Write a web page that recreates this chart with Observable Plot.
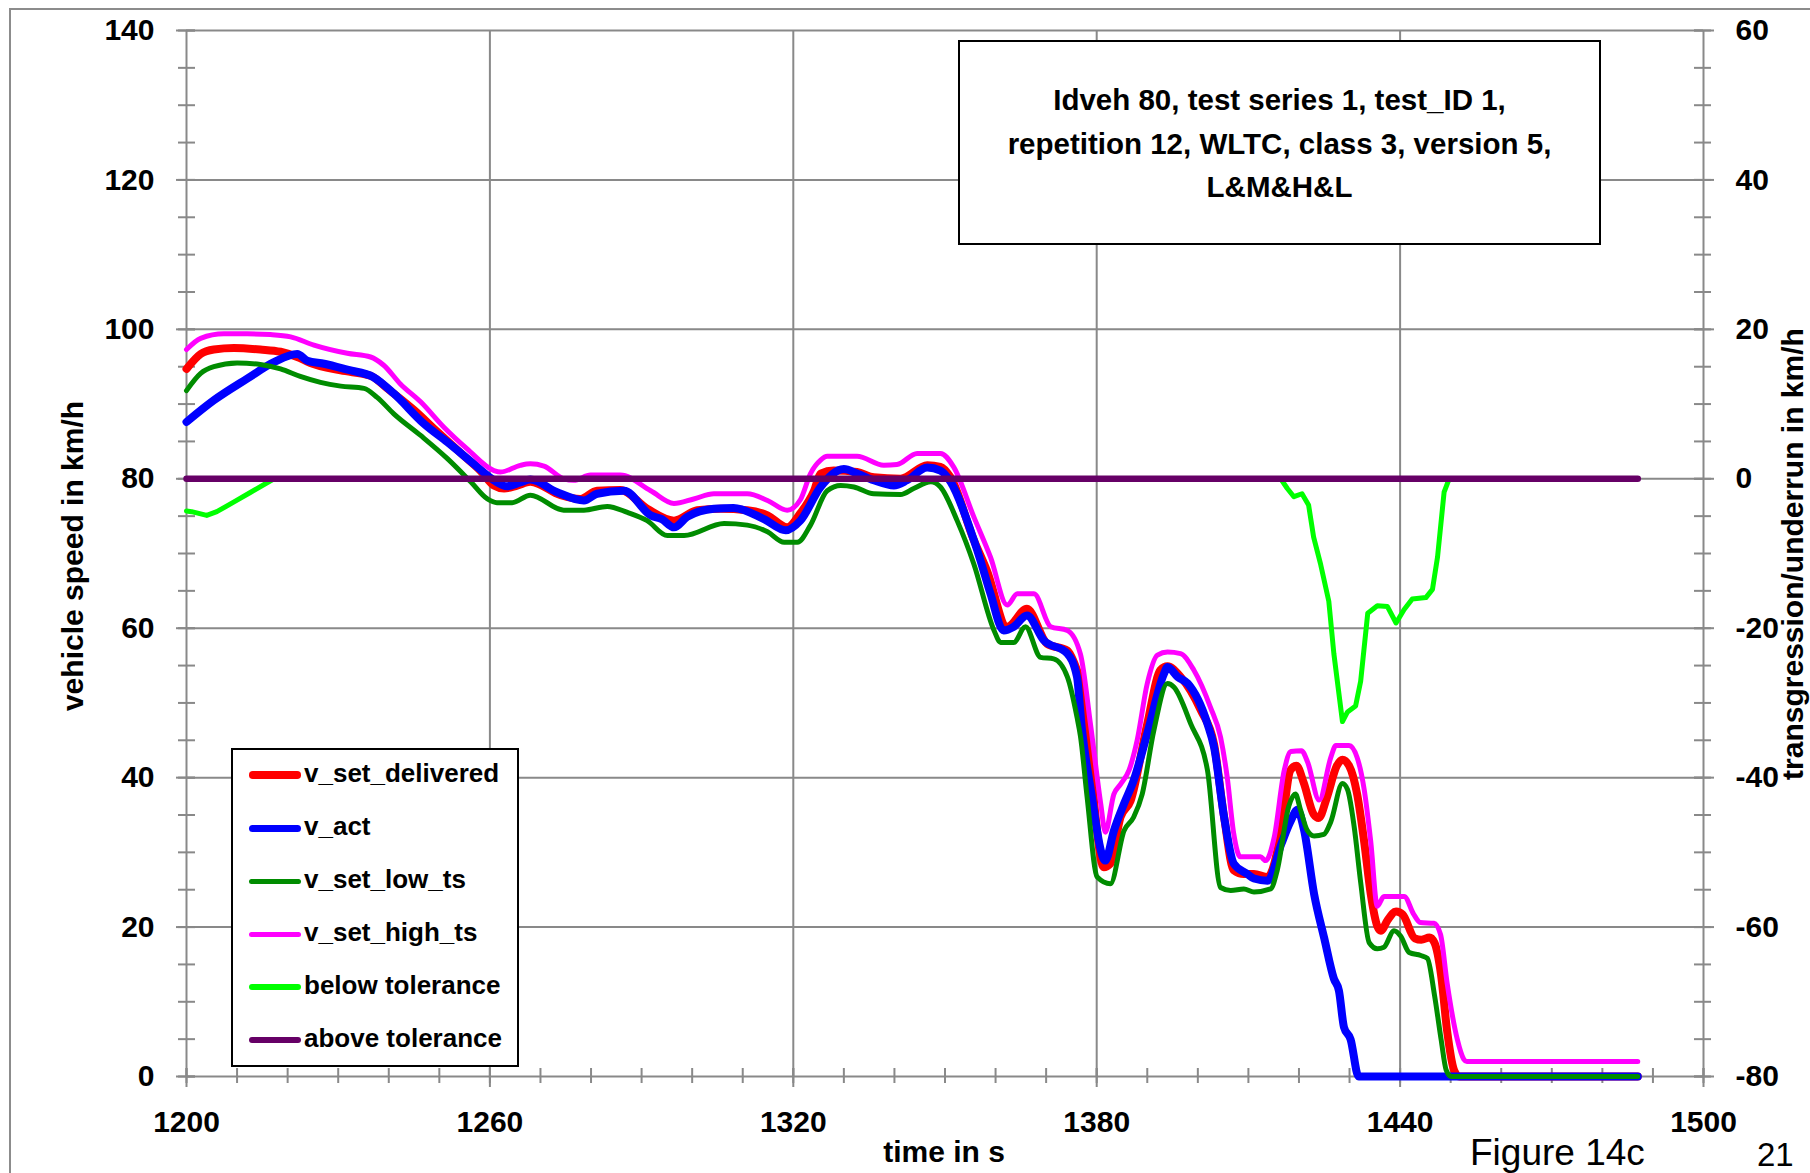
<!DOCTYPE html>
<html><head><meta charset="utf-8">
<script src="https://cdn.jsdelivr.net/npm/d3@7"></script>
<script src="https://cdn.jsdelivr.net/npm/@observablehq/plot@0.6"></script>
<style>
html,body{margin:0;padding:0;background:#fff;overflow:hidden;}
#wrap{position:relative;width:1810px;height:1173px;overflow:hidden;font-family:"Liberation Sans",Arial,sans-serif;color:#000;}
.abs{position:absolute;white-space:nowrap;}
#wrap svg{position:absolute;left:0;top:0;}
</style></head><body><div id="wrap"></div><script>
// ---------- data ----------
const tDelivered = [1200,1202.8,1205.4,1209.4,1214.6,1218.6,1221.9,1224.5,1230.5,1236.4,1239.7,1245,1249.6,1254.8,1258.1,1260.8,1262.8,1265.4,1268,1274,1277.9,1281.2,1285.8,1291.1,1296.4,1301,1305.6,1310.9,1314.9,1318.8,1321.4,1324.1,1325.4,1328,1332.6,1335.9,1341.2,1346.5,1349.1,1351.1,1355.7,1358.3,1362.3,1366.2,1370.2,1374.2,1376.1,1376.8,1378.8,1381.4,1382.7,1384.7,1386.7,1390,1392.6,1394,1396.6,1400.6,1403.2,1405.2,1407.1,1409.1,1411.1,1413.8,1416.5,1418.3,1419.5,1420.9,1422.9,1423.9,1425.5,1427.5,1428.6,1429.9,1431.5,1432.9,1434.2,1435.5,1436.2,1437.5,1439.2,1440.5,1442.9,1444.2,1445.8,1446.8,1448.1,1449.3,1450.7,1451.7,1487];
const vDelivered = [94.7,96.7,97.3,97.5,97.3,97.0,96.3,95.5,94.5,93.8,92.1,89.2,86.3,83.1,81.1,79.1,78.7,79.1,79.6,77.8,77.3,78.4,78.5,76.0,74.4,75.8,76.0,75.8,75.1,73.5,75.4,78.4,80.7,81.1,80.9,80.2,80.0,81.8,81.6,80.2,71.8,67.7,60.2,62.6,57.9,57.0,54.4,53.0,41.0,28.0,28.5,34.7,36.9,47.2,54.4,54.9,53.5,49.0,44.5,34.7,27.6,27.1,27.1,26.7,32.9,41.0,41.6,39.4,35.1,34.6,37.3,41.6,42.4,41.6,37.8,31.4,24.4,20.1,19.5,20.9,22.1,21.7,18.5,18.3,18.6,17.9,13.6,6.1,0.8,0,0];

const tAct = [1200,1205.4,1212,1217.3,1221.9,1223.9,1227.2,1231.8,1237,1241,1246.9,1251.6,1256.8,1260.8,1263.4,1266,1268,1273.3,1278.6,1281.2,1286.5,1291.8,1294,1296.4,1299,1304.3,1308.2,1314.2,1318.5,1321.4,1325.4,1330,1332.6,1335.9,1339.9,1342.5,1346.5,1349.1,1351.1,1355.7,1357,1359,1361.6,1363.6,1366.2,1369.5,1374.2,1376.1,1377,1378.8,1381.7,1383.4,1385.4,1387.3,1390,1393.3,1394,1396,1398,1401.9,1403.2,1405.2,1407.1,1409.8,1411.1,1413.8,1416.5,1418.3,1419.7,1421,1423,1425,1426.9,1427.9,1428.9,1430.2,1431.8,1487];
const vAct = [87.6,90.5,93.4,95.6,96.7,95.8,95.4,94.6,93.6,91.4,87.4,84.9,82.0,79.8,79.0,79.5,79.9,78.2,77.1,78.0,78.4,75.1,74.6,73.5,74.9,76.0,76.1,74.6,73.1,74.4,78.9,81.3,80.7,79.8,79.1,79.8,81.5,81.1,79.6,71.8,69.1,64.6,59.7,60.2,61.7,58.4,56.6,53.5,47.0,38.5,28.9,32.9,36.5,39.6,45.9,53.9,54.8,53.5,52.6,47.2,44.1,34.7,28.5,27.1,26.5,26.2,31.1,34.1,35.7,33.0,24.4,18.5,13.1,11.5,6.6,5.0,0,0];

const tLow = [1200,1202.8,1205.4,1210,1214.6,1218.6,1222.5,1226.5,1230.5,1235.1,1237.7,1241,1246.3,1251.6,1256.2,1259.5,1261.4,1264.4,1268,1274.6,1278.6,1283.2,1287.2,1291.1,1295.1,1298.4,1306.3,1310.9,1314.9,1318.2,1320.8,1323.4,1326.7,1329.4,1332,1335.9,1341.2,1343.8,1347.2,1349.1,1352.4,1355.7,1359.7,1361,1363.6,1365.9,1368.9,1371.5,1374.2,1376.1,1376.8,1378.1,1380.1,1382.7,1385.4,1387.3,1389,1391.3,1394,1395.3,1398.6,1401.9,1404.5,1406.5,1409.1,1411.1,1414.4,1415.7,1418,1419.3,1420.3,1421.6,1423,1424.9,1426.3,1428.6,1429.6,1430.9,1432.2,1433.9,1435.5,1436.8,1438.8,1440.1,1441.8,1444.1,1445.4,1446.8,1448.1,1449.1,1450.1,1487];
const vLow = [91.8,94.1,95.0,95.5,95.3,94.7,93.7,92.9,92.4,92.1,90.9,88.7,85.8,82.7,79.6,77.3,76.8,76.8,77.8,75.8,75.8,76.3,75.5,74.4,72.4,72.4,74.0,73.8,72.9,71.5,71.5,73.8,78.4,79.1,78.9,78.0,77.9,78.7,79.6,78.9,74.4,68.6,59.7,58.1,58.1,60.2,56.1,55.9,53.5,48.1,45.5,37.4,26.7,25.8,32.9,34.7,37.8,46.3,52.6,52.1,47.2,41.0,25.3,24.9,25.1,24.7,25.1,27.6,36.2,37.8,35.7,33.0,32.2,32.4,34.1,39.2,38.4,33.5,26.0,17.9,17.1,17.3,19.5,18.8,16.6,16.2,15.8,10.9,5.0,0.9,0,0];

const tHigh = [1200,1202.8,1207.4,1212,1216.6,1220.6,1225.2,1231.8,1236.4,1239,1242.3,1246.3,1250.9,1255.5,1260.8,1262.1,1266,1268,1270.7,1274.6,1276.6,1279.9,1285.8,1291.8,1296.4,1300.3,1304.3,1310.9,1314.9,1318.8,1321.4,1323.4,1325.4,1326.7,1332.6,1337.9,1340.5,1344.5,1349.1,1351.7,1355.7,1359,1362.3,1364.3,1367.6,1370.9,1374.2,1376.8,1378.8,1380.8,1381.7,1383.4,1384.7,1386.4,1388,1390,1392,1394,1396.6,1399.2,1402.5,1404.5,1405.8,1407.1,1408.4,1412.4,1413.4,1415.1,1417.1,1418.4,1420.5,1421.7,1424,1426.3,1427.3,1429.9,1431.5,1432.9,1434.2,1435.5,1436.8,1440.8,1442.7,1444,1446.7,1448,1449.3,1451.3,1452.6,1453.2,1487];
const vHigh = [97.3,98.8,99.4,99.4,99.3,99.0,97.9,96.8,96.3,95.2,92.7,90.3,86.9,84.0,81.1,80.9,81.8,82.0,81.7,80.0,79.8,80.5,80.5,78.4,76.7,77.3,78.0,78.0,77.1,75.8,77.2,80.7,82.5,83.0,83.0,81.8,81.9,83.4,83.4,81.6,74.9,69.5,63.1,64.6,64.6,60.2,59.7,56.5,47.0,36.5,32.7,37.8,39.1,41.0,45.0,52.6,56.4,56.8,56.6,54.4,49.4,45.4,40.1,32.5,29.4,29.4,28.9,32.0,41.0,43.5,43.6,42.1,37.0,42.7,44.3,44.3,42.7,38.4,31.4,22.8,24.1,24.1,21.7,20.6,20.5,19.0,12.5,5.0,2.3,2.0,2.0];

// secondary (right) axis series, in km/h of transgression/underrun
const tBelow = [1200,1201,1204,1206,1209.4,1212.7,1217.3,1416.4,1417.7,1419,1420.6,1421.9,1422.9,1424.3,1425.9,1426.9,1428.6,1429.6,1431.2,1432.2,1433.6,1435.5,1437.5,1439.2,1440.8,1442.4,1445.1,1446.4,1447.4,1448.7,1449.7,1487];
const vBelow = [-4.3,-4.4,-4.9,-4.4,-3.1,-1.8,0,0,-1.3,-2.4,-2.0,-3.5,-7.8,-11.5,-16.4,-23.4,-32.5,-31.2,-30.4,-27.1,-18.0,-17.0,-17.1,-19.3,-17.5,-16.1,-15.9,-14.8,-10.5,-1.8,0,0];
const tAbove = [1200,1487];
const vAbove = [0,0];

const xTicks = [1200,1260,1320,1380,1440,1500];
const xMinorTicks = d3.range(1200,1501,10);
const yLeftTicks = [0,20,40,60,80,100,120,140];
const yMinorTicks = d3.range(0,141,5);
const yRightTickLabels = ["-80","-60","-40","-20","0","20","40","60"];
const rightOffset = 80; // right-axis value 0 sits at left-axis value 80

const seriesNames = ["v_set_delivered","v_act","v_set_low_ts","v_set_high_ts","below tolerance","above tolerance"];
const seriesColors = ["#ff0000","#0000ff","#008c00","#ff00ff","#00ff00","#660066"];
const seriesWidths = [8,8,5,5,5,6.5];
const legendWidths = [7.5,7,5,5,6,6];

const titleLines = ["Idveh 80, test series 1, test_ID 1,","repetition 12, WLTC, class 3, version 5,","L&M&H&L"];
const xLabel = "time in s";
const yLabel = "vehicle speed in km/h";
const y2Label = "transgression/underrun in km/h";

// ---------- build ----------
const rows = (t, v, off = 0) => t.map((x, i) => ({t: x, v: v[i] + off}));
const series = [
  rows(tDelivered, vDelivered),
  rows(tAct, vAct),
  rows(tLow, vLow),
  rows(tHigh, vHigh),
  rows(tBelow, vBelow, rightOffset),
  rows(tAbove, vAbove, rightOffset)
];
const gray = "#898989";
const FONT = "Liberation Sans, Arial, sans-serif";

const chart = Plot.plot({
  width: 1810, height: 1173,
  marginLeft: 186, marginRight: 107, marginTop: 30, marginBottom: 97,
  x: {domain: [1200, 1500]},
  y: {domain: [0, 140]},
  style: {fontFamily: FONT, fontWeight: "bold", background: "transparent", color: "#000", overflow: "visible"},
  marks: [
    // grid
    Plot.ruleY(yLeftTicks.filter(d => d > 0), {y: d => d, stroke: gray, strokeWidth: 2}),
    Plot.ruleX(xTicks.filter(d => d > 1200), {x: d => d, stroke: gray, strokeWidth: 2}),
    Plot.ruleX([1200], {x: d => d, stroke: gray, strokeWidth: 2}),
    Plot.ruleY([0], {y: d => d, stroke: gray, strokeWidth: 2}),
    // left ticks
    Plot.ruleY(yMinorTicks, {y: d => d, x1: () => 1200, x2: () => 1200, insetLeft: -8, insetRight: -9, stroke: gray, strokeWidth: 2}),
    Plot.ruleY(yLeftTicks, {y: d => d, x1: () => 1200, x2: () => 1200, insetLeft: -10, insetRight: -9, stroke: gray, strokeWidth: 2}),
    // right ticks
    Plot.ruleY(yMinorTicks, {y: d => d, x1: () => 1500, x2: () => 1500, insetLeft: -9, insetRight: -8, stroke: gray, strokeWidth: 2}),
    Plot.ruleY(yLeftTicks, {y: d => d, x1: () => 1500, x2: () => 1500, insetLeft: -9, insetRight: -11, stroke: gray, strokeWidth: 2}),
    // bottom ticks
    Plot.ruleX(xMinorTicks, {x: d => d, y1: () => 0, y2: () => 0, insetTop: -8, insetBottom: -7, stroke: gray, strokeWidth: 2}),
    Plot.ruleX(xTicks, {x: d => d, y1: () => 0, y2: () => 0, insetTop: -8, insetBottom: -11, stroke: gray, strokeWidth: 2}),
    // series
    ...series.map((data, i) => Plot.line(data, {
      x: "t", y: "v", stroke: seriesColors[i], strokeWidth: seriesWidths[i],
      strokeLinejoin: "round", strokeLinecap: "round", curve: i >= 4 ? "linear" : "monotone-x"
    })),
    // axes
    Plot.axisX({ticks: xTicks, tickSize: 0, tickPadding: 34, fontSize: 30, fontWeight: "bold", label: null, tickFormat: d => String(d)}),
    Plot.axisY({anchor: "left", ticks: yLeftTicks, tickSize: 0, tickPadding: 32, fontSize: 30, fontWeight: "bold", label: null, tickFormat: d => String(d)}),
    Plot.axisY({anchor: "right", ticks: yLeftTicks, tickSize: 0, tickPadding: 32, fontSize: 30, fontWeight: "bold", label: null,
      tickFormat: d => yRightTickLabels[yLeftTicks.indexOf(d)]})
  ]
});

const wrap = document.getElementById("wrap");
// outer frame
const frame = document.createElement("div");
frame.className = "abs";
Object.assign(frame.style, {left: "9px", top: "8px", width: "2000px", height: "2000px", borderTop: "2.5px solid #8c8c8c", borderLeft: "2.5px solid #8c8c8c"});
wrap.appendChild(frame);
wrap.appendChild(chart);

function addText(txt, css) {
  const d = document.createElement("div");
  d.className = "abs";
  d.textContent = txt;
  Object.assign(d.style, css);
  wrap.appendChild(d);
  return d;
}

// title box
const tb = document.createElement("div");
tb.className = "abs";
Object.assign(tb.style, {left: "958px", top: "40px", width: "643px", height: "205px", boxSizing: "border-box", border: "2px solid #000", background: "#fff"});
wrap.appendChild(tb);
const tt = document.createElement("div");
tt.className = "abs";
Object.assign(tt.style, {left: "958px", top: "78px", width: "643px", textAlign: "center", fontSize: "29.5px", fontWeight: "bold", lineHeight: "43.7px"});
titleLines.forEach((l, i) => { if (i) tt.appendChild(document.createElement("br")); tt.appendChild(document.createTextNode(l)); });
wrap.appendChild(tt);

// legend
const lg = document.createElement("div");
lg.className = "abs";
Object.assign(lg.style, {left: "231px", top: "748px", width: "288px", height: "319px", boxSizing: "border-box", border: "2px solid #000", background: "#fff"});
wrap.appendChild(lg);
seriesNames.forEach((name, i) => {
  const ly = 775 + i * 53.06;
  const h = legendWidths[i];
  const sw = document.createElement("div");
  sw.className = "abs";
  Object.assign(sw.style, {left: "249px", top: (ly - h / 2) + "px", width: "52px", height: h + "px", borderRadius: (h / 2) + "px", background: seriesColors[i]});
  wrap.appendChild(sw);
  addText(name, {left: "304px", top: (ly - 15) + "px", fontSize: "26px", fontWeight: "bold", lineHeight: "26px"});
});

// axis titles
addText(yLabel, {left: "73px", top: "556px", fontSize: "30px", fontWeight: "bold", lineHeight: "30px", transform: "translate(-50%,-50%) rotate(-90deg)"});
addText(y2Label, {left: "1793px", top: "554px", fontSize: "30px", fontWeight: "bold", lineHeight: "30px", transform: "translate(-50%,-50%) rotate(-90deg)"});
addText(xLabel, {left: "944px", top: "1137px", fontSize: "30px", fontWeight: "bold", lineHeight: "30px", transform: "translateX(-50%)"});

// page furniture (kept fully inside the page)
addText("Figure 14c", {left: "1470px", top: "1134px", fontSize: "37px", lineHeight: "37px"});
addText("21", {left: "1757px", top: "1138px", fontSize: "33px", lineHeight: "33px"});
</script></body></html>
